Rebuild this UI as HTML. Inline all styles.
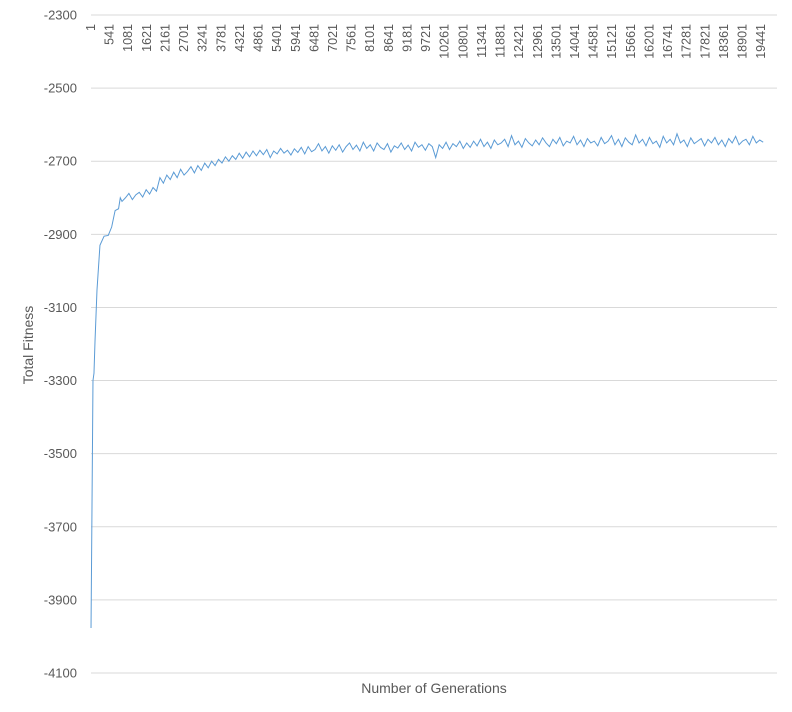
<!DOCTYPE html>
<html><head><meta charset="utf-8"><style>
html,body{margin:0;padding:0;background:#fff;}
svg{display:block;font-family:"Liberation Sans",Arial,sans-serif;}
</style></head><body>
<svg id="chart" width="792" height="712" viewBox="0 0 792 712" xmlns="http://www.w3.org/2000/svg">
<rect width="792" height="712" fill="#fff"/>
<g id="grid"></g>
<g id="yticks"></g>
<g id="xticks"></g>
<path id="series" fill="none" stroke="#5b9bd5" stroke-width="1"/>
<text x="33" y="345" transform="rotate(-90 33 345)" text-anchor="middle" font-size="14" fill="#595959">Total Fitness</text>
<text x="434" y="693" text-anchor="middle" font-size="14" fill="#595959">Number of Generations</text>
</svg>
<script>
const yTicks=[-2300,-2500,-2700,-2900,-3100,-3300,-3500,-3700,-3900,-4100];
const xTickLabels=[];for(let g=1;g<=19441;g+=540)xTickLabels.push(g);
const earlyGens=[1,29,58,87,116,174,260,380,500,600,700,800,850,900];
const earlyVals=[-3977,-3650,-3300,-3280,-3195,-3053,-2930,-2905,-2903,-2880,-2835,-2830,-2800,-2810];
const laterVals=[
-2800,-2788,-2805,-2792,-2785,-2798,-2778,-2790,-2772,-2782,
-2745,-2760,-2738,-2750,-2730,-2745,-2722,-2738,-2728,-2715,
-2732,-2712,-2725,-2705,-2718,-2700,-2712,-2695,-2705,-2688,
-2700,-2685,-2695,-2678,-2692,-2675,-2688,-2672,-2685,-2670,
-2682,-2668,-2690,-2672,-2680,-2665,-2678,-2670,-2683,-2666,
-2676,-2662,-2680,-2660,-2674,-2668,-2652,-2672,-2660,-2678,
-2658,-2670,-2655,-2675,-2660,-2650,-2668,-2656,-2672,-2648,
-2665,-2655,-2672,-2650,-2662,-2668,-2652,-2675,-2658,-2664,
-2650,-2668,-2656,-2672,-2648,-2662,-2655,-2670,-2652,-2660,
-2690,-2655,-2665,-2648,-2668,-2652,-2660,-2645,-2665,-2650,
-2662,-2645,-2658,-2640,-2660,-2648,-2665,-2642,-2655,-2650,
-2640,-2660,-2630,-2655,-2645,-2662,-2638,-2650,-2658,-2642,
-2655,-2636,-2650,-2660,-2640,-2652,-2635,-2658,-2645,-2650,
-2632,-2655,-2642,-2660,-2638,-2650,-2645,-2658,-2635,-2652,
-2645,-2630,-2655,-2640,-2660,-2636,-2648,-2655,-2628,-2650,
-2640,-2658,-2635,-2652,-2645,-2662,-2632,-2650,-2640,-2655,
-2625,-2650,-2642,-2660,-2636,-2652,-2645,-2638,-2658,-2640,
-2650,-2635,-2655,-2642,-2660,-2638,-2650,-2632,-2655,-2645,
-2640,-2655,-2632,-2650,-2642,-2648];
const laterStart=1000, laterStep=100;

const X0=91,X1=777,Y0=15,Y1=673,N=19900;
const xs=g=>X0+(g-0.5)*(X1-X0)/N;
const ys=v=>Y0+(-2300-v)/1800*(Y1-Y0);
const NS="http://www.w3.org/2000/svg";
const grid=document.getElementById('grid'),yt=document.getElementById('yticks'),xt=document.getElementById('xticks');
yTicks.forEach(v=>{
 const l=document.createElementNS(NS,'line');
 l.setAttribute('x1',X0);l.setAttribute('x2',X1);l.setAttribute('y1',ys(v));l.setAttribute('y2',ys(v));
 l.setAttribute('stroke','#d9d9d9');l.setAttribute('stroke-width','1');
 
 
 grid.appendChild(l);
 const t=document.createElementNS(NS,'text');
 t.setAttribute('x',77);t.setAttribute('y',ys(v)+4.5);t.setAttribute('text-anchor','end');
 t.setAttribute('font-size','13');t.setAttribute('fill','#595959');t.textContent=v;
 
 
 yt.appendChild(t);
});
xTickLabels.forEach(g=>{
 const x=xs(g)+4,y=24;
 const t=document.createElementNS(NS,'text');
 t.setAttribute('x',x);t.setAttribute('y',y);t.setAttribute('text-anchor','end');
 t.setAttribute('transform','rotate(-90 '+x+' '+y+')');
 t.setAttribute('font-size','12.5');t.setAttribute('fill','#595959');t.textContent=g;
 
 
 xt.appendChild(t);
});
const pts=[];
earlyGens.forEach((g,i)=>pts.push([xs(g),ys(earlyVals[i])]));
laterVals.forEach((v,i)=>pts.push([xs(laterStart+i*laterStep),ys(v)]));
document.getElementById('series').setAttribute('d','M'+pts.map(p=>p[0].toFixed(2)+','+p[1].toFixed(2)).join('L'));
</script>
</body></html>
